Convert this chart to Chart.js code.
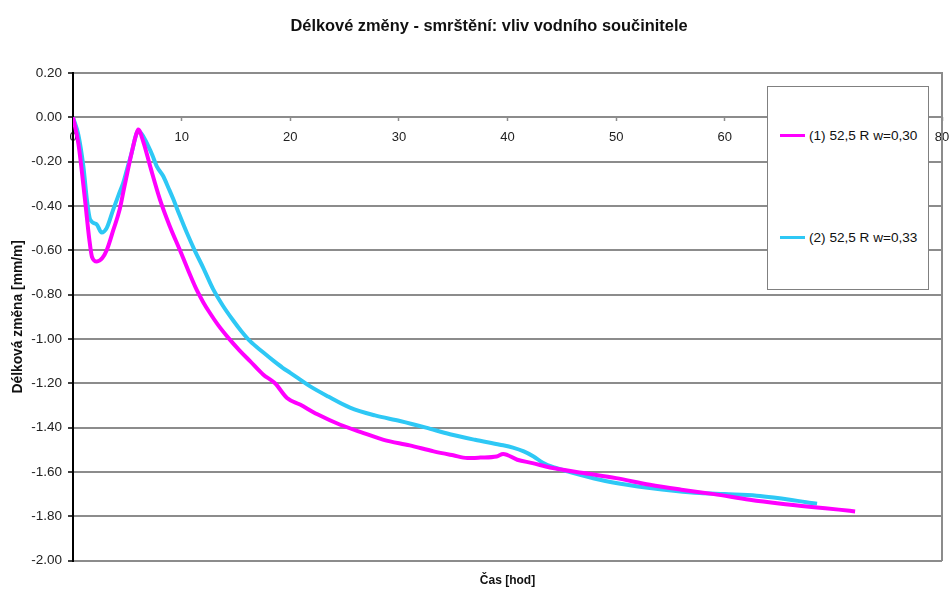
<!DOCTYPE html>
<html>
<head>
<meta charset="utf-8">
<script src="https://cdn.jsdelivr.net/npm/chart.js@4.4.1/dist/chart.umd.min.js"></script>
<style>
  html, body { margin: 0; padding: 0; background: #fff; }
  #wrap { position: relative; width: 950px; height: 590px; font-family: 'Liberation Sans', Arial, sans-serif; }
  #title { position: absolute; left: 489px; top: 16px; transform: translateX(-50%); white-space: nowrap;
           font-weight: bold; font-size: 16.4px; color: #111; }
  #legend { position: absolute; left: 767px; top: 86px; width: 162px; height: 204px; box-sizing: border-box;
            border: 1.5px solid #808080; background: #fff; }
  .item { position: absolute; left: 12px; display: flex; align-items: center; font-size: 13.6px; color: #111; white-space: nowrap; }
  .swatch { width: 25px; height: 3px; margin-right: 4px; }
</style>
</head>
<body>
<div id="wrap">
  <canvas id="c" width="950" height="590"></canvas>
  <div id="title">Délkové změny - smrštění: vliv vodního součinitele</div>
  <div id="legend"></div>
</div>
<script>
// Series names
const seriesNames = ['(1) 52,5 R w=0,30', '(2) 52,5 R w=0,33'];

// Series (1): time [h] and length change [mm/m]
const hours1 = [0, 0.5, 1.1, 1.5, 1.75, 2.2, 2.7, 3.1, 3.7, 4.3, 4.7, 5.0, 5.4, 5.8, 6.0, 6.5, 7.1, 8.0, 8.9, 9.85,
                10.6, 11.4, 12.0, 12.5, 13.4, 14.3, 15.3, 16.3, 17.5, 18.6, 19.7, 20.9, 22.5, 24.6, 26.5, 28.6, 31.0,
                33.2, 35.0, 36.3, 37.5, 39.0, 39.6, 40.9, 42.3, 43.9, 47.0, 50.0, 53.1, 56.0, 59.0, 62.3, 65.0, 68.0,
                70.5, 72.0];
const shrink1 = [0, -0.12, -0.37, -0.55, -0.63, -0.65, -0.635, -0.60, -0.51, -0.415, -0.32, -0.25, -0.16, -0.08, -0.055,
                 -0.115, -0.22, -0.37, -0.49, -0.60, -0.69, -0.78, -0.835, -0.875, -0.94, -0.995, -1.05, -1.10, -1.16,
                 -1.20, -1.266, -1.296, -1.34, -1.387, -1.42, -1.455, -1.48, -1.507, -1.525, -1.537, -1.535, -1.53,
                 -1.519, -1.545, -1.56, -1.58, -1.605, -1.628, -1.658, -1.68, -1.70, -1.725, -1.742, -1.758, -1.77,
                 -1.778];

// Series (2): time [h] and length change [mm/m]
const hours2 = [0, 0.5, 0.95, 1.3, 1.57, 2.18, 2.64, 3.1, 3.71, 4.2, 4.63, 5.0, 5.4, 5.8, 6.0, 6.4, 6.93, 7.3, 7.7,
                8.3, 8.8, 9.24, 9.8, 10.47, 11.2, 12.0, 12.9, 13.8, 14.8, 15.5, 16.3, 17.5, 18.5, 19.3, 20.0, 21.8,
                23.5, 25.5, 27.8, 30.1, 32.5, 34.7, 37.0, 39.3, 40.5, 41.5, 42.4, 43.3, 44.3, 45.5, 48.5, 51.0, 53.1,
                55.5, 57.7, 60.0, 62.95, 64.5, 66.0, 67.5, 68.5];
const shrink2 = [0, -0.08, -0.22, -0.38, -0.46, -0.483, -0.52, -0.50, -0.415, -0.35, -0.295, -0.23, -0.16, -0.08,
                 -0.062, -0.08, -0.13, -0.17, -0.22, -0.265, -0.32, -0.37, -0.44, -0.52, -0.60, -0.68, -0.775,
                 -0.85, -0.92, -0.965, -1.01, -1.06, -1.10, -1.13, -1.153, -1.213, -1.26, -1.31, -1.345, -1.37,
                 -1.40, -1.43, -1.455, -1.477, -1.49, -1.507, -1.53, -1.56, -1.58, -1.597, -1.635, -1.658, -1.673,
                 -1.686, -1.695, -1.70, -1.707, -1.715, -1.725, -1.737, -1.743];

// Axis ticks
const xTicks = [0, 10, 20, 30, 40, 50, 60, 70, 80];
const yTicks = [0.2, 0, -0.2, -0.4, -0.6, -0.8, -1.0, -1.2, -1.4, -1.6, -1.8, -2.0];

const FONT = "'Liberation Sans', Arial, sans-serif";
const pairs = (xs, ys) => xs.map((x, i) => ({ x: x, y: ys[i] }));
const setTicks = vals => scale => { scale.ticks = vals.map(v => ({ value: v })); };

const chart = new Chart(document.getElementById('c'), {
  type: 'line',
  data: {
    datasets: [
      { label: seriesNames[0], data: pairs(hours1, shrink1), borderColor: '#FF00FF', backgroundColor: '#FF00FF',
        borderWidth: 4, pointRadius: 0, cubicInterpolationMode: 'monotone', fill: false },
      { label: seriesNames[1], data: pairs(hours2, shrink2), borderColor: '#2EC8F5', backgroundColor: '#2EC8F5',
        borderWidth: 4, pointRadius: 0, cubicInterpolationMode: 'monotone', fill: false }
    ]
  },
  options: {
    responsive: false,
    animation: false,
    devicePixelRatio: 1,
    layout: { padding: { top: 73, right: 8, bottom: 0, left: 0 } },
    plugins: {
      legend: { display: false },
      tooltip: { enabled: false },
      subtitle: {
        display: true, text: 'Čas [hod]', position: 'bottom', fullSize: false, color: '#111',
        font: { family: FONT, size: 12, weight: 'bold' }, padding: { top: 13, bottom: 2 }
      }
    },
    scales: {
      // horizontal axis crosses the vertical one at zero
      x: {
        type: 'linear', position: { y: 0 }, min: 0, max: 80,
        afterBuildTicks: setTicks(xTicks),
        afterFit: s => { s.height = 0; s.paddingLeft = 0; s.paddingRight = 0; },
        grid: { display: true, drawOnChartArea: false, drawTicks: true, tickLength: 4,
                tickColor: '#8c8c8c', tickWidth: 1.5 },
        border: { display: false },
        ticks: { padding: 8, color: '#222', font: { family: FONT, size: 13 }, maxRotation: 0 }
      },
      y: {
        type: 'linear', position: 'left', min: -2, max: 0.2,
        afterBuildTicks: setTicks(yTicks),
        afterFit: s => { s.width = 73; },
        grid: { color: '#8c8c8c', lineWidth: 2, tickLength: 5, tickColor: '#000', tickWidth: 1.5 },
        border: { color: '#000', width: 2 },
        ticks: { padding: 6, color: '#222', font: { family: FONT, size: 13.5 }, callback: v => v.toFixed(2) },
        title: { display: true, text: 'Délková změna [mm/m]', color: '#111',
                 font: { family: FONT, size: 13.8, weight: 'bold' }, padding: { top: 10, bottom: 0 } }
      },
      // right-hand frame of the plot area
      y2: {
        type: 'linear', position: 'right', min: -2, max: 0.2,
        afterFit: s => { s.width = 0; },
        grid: { display: false, drawTicks: false },
        border: { color: '#8c8c8c', width: 2 },
        ticks: { display: false }
      }
    }
  }
});

// Boxed legend built from the chart's datasets
const legend = document.getElementById('legend');
const itemTops = [41, 143];
chart.data.datasets.forEach((ds, i) => {
  const item = document.createElement('div');
  item.className = 'item';
  item.style.top = itemTops[i] + 'px';
  const sw = document.createElement('span');
  sw.className = 'swatch';
  sw.style.background = ds.borderColor;
  const txt = document.createElement('span');
  txt.textContent = ds.label;
  item.appendChild(sw);
  item.appendChild(txt);
  legend.appendChild(item);
});
</script>
</body>
</html>
